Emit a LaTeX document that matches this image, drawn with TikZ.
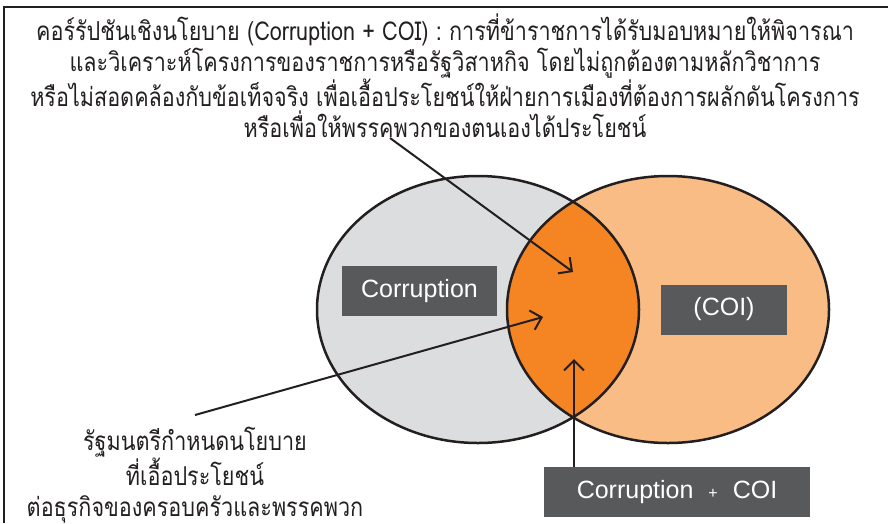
\documentclass[tikz,border=0pt]{standalone}
\usepackage{fontspec}
\newfontfamily\thaifont[Script=Thai,FakeStretch=0.83]{Loma}
\newfontfamily\boxfont{Liberation Sans}
\usetikzlibrary{arrows.meta}
\usetikzlibrary{positioning,calc}
\definecolor{corrgray}{HTML}{DCDDDF}
\definecolor{coilight}{HTML}{F9BC85}
\definecolor{bothorange}{HTML}{F58423}
\definecolor{boxgray}{HTML}{58595B}
\definecolor{inkblack}{HTML}{231F20}
\tikzstyle{labelbox}=[fill=boxgray,text=white,font=\boxfont\fontsize{25}{30}\selectfont,minimum height=50pt,inner sep=0pt]
\tikzstyle{thaitext}=[text=inkblack,align=center,font=\thaifont\fontsize{26}{31}\selectfont]
\tikzstyle{ring}=[draw=inkblack,line width=2.5pt]
\tikzstyle{arrowedge}=[draw=inkblack,line width=2pt,-{Straight Barb[length=10pt,width=20pt]}]

\begin{document}
\begin{tikzpicture}[x=1pt,y=-1pt]
    \useasboundingbox (0,0) rectangle (888,523);

    % frame, open at the right and at the bottom
    \draw[inkblack,line width=2.5pt] (888,7) -- (4,7) -- (4,523);

    % the two sets and their overlap
    \fill[corrgray] (478,309.5) ellipse [x radius=161, y radius=133.5];
    \fill[coilight] (668,309.5) ellipse [x radius=161, y radius=133.5];
    \begin{scope}
        \clip (478,309.5) ellipse [x radius=161, y radius=133.5];
        \fill[bothorange] (668,309.5) ellipse [x radius=161, y radius=133.5];
    \end{scope}
    \path[ring] (478,309.5) ellipse [x radius=161, y radius=133.5];
    \path[ring] (668,309.5) ellipse [x radius=161, y radius=133.5];

    % grey label boxes
    \foreach \pos/\name/\boxw/\label in {{(419.5,291)/corr/155pt/Corruption}, {(724,309.5)/coi/126pt/(COI)}, {(677,492)/both/266pt/{Corruption\hspace{15pt}{\fontsize{16}{16}\selectfont +}\hspace{15pt}COI}}}
        \node[labelbox,minimum width=\boxw] (\name) at \pos {\label};

    % texts
    \node[thaitext,anchor=north] (title) at (445,10) {คอร์รัปชันเชิงนโยบาย (Corruption + COI) : การที่ข้าราชการได้รับมอบหมายให้พิจารณา\\
        และวิเคราะห์โครงการของราชการหรือรัฐวิสาหกิจ โดยไม่ถูกต้องตามหลักวิชาการ\\
        หรือไม่สอดคล้องกับข้อเท็จจริง เพื่อเอื้อประโยชน์ให้ฝ่ายการเมืองที่ต้องการผลักดันโครงการ\\
        หรือเพื่อให้พรรคพวกของตนเองได้ประโยชน์};
    \node[thaitext,inner sep=0pt] (minister) at (195,475) {รัฐมนตรีกำหนดนโยบาย\\ที่เอื้อประโยชน์\\ต่อธุรกิจของครอบครัวและพรรคพวก};

    % arrow ends
    \coordinate (t1) at (390,138);
    \coordinate (in1) at (573,272);
    \coordinate (m1) at (195,415);
    \coordinate (in2) at (543,317);
    \coordinate (in3) at (574,359);
    \coordinate (b1) at (both.north -| in3);

    \foreach \source/\dest in {t1/in1, m1/in2, b1/in3}
        \path[arrowedge] (\source) -- (\dest);

\end{tikzpicture}
\end{document}
